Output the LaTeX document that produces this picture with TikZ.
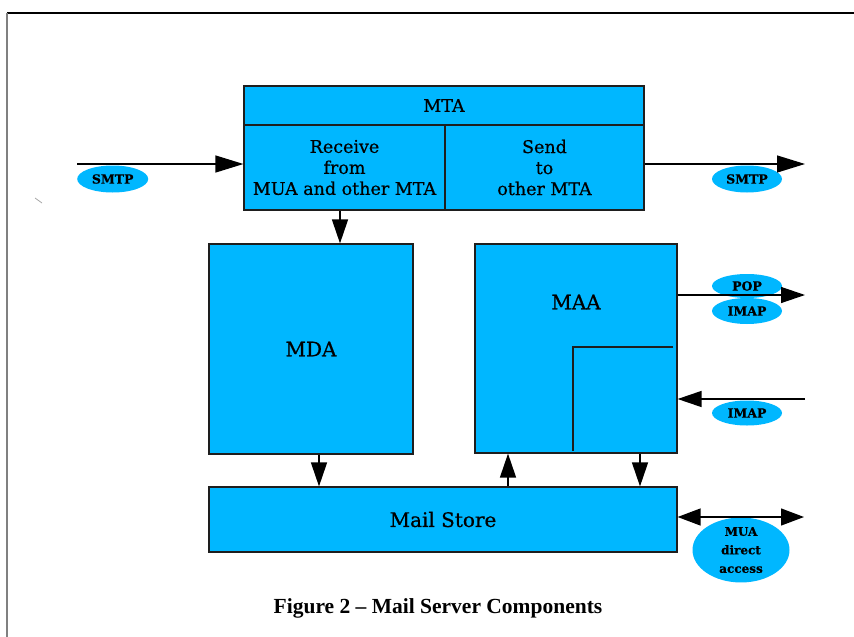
\documentclass[tikz,border=0pt]{standalone}
\usepackage{fontspec}
\setmainfont{DejaVu Serif}[FakeBold=0.6]
\newfontfamily\capfont{Liberation Serif}
\usetikzlibrary{shapes.geometric,arrows.meta,calc}
\definecolor{boxfill}{RGB}{0,183,255}
\definecolor{edgecol}{RGB}{30,30,30}
\begin{document}
\begin{tikzpicture}[x=1pt,y=-1pt,
  box/.style={draw=edgecol,line width=1.2pt,fill=boxfill,inner sep=0pt,align=center},
  midtext/.style={font=\fontsize{17.5}{21}\selectfont},
  bigtext/.style={font=\fontsize{20}{24}\selectfont},
  proto/.style={ellipse,fill=boxfill,inner sep=0pt,align=center,font=\bfseries\fontsize{12.5}{14}\selectfont},
  arr/.style={line width=1.3pt,-{Triangle[length=24pt,width=16pt]}},
  arrbig/.style={line width=1.3pt,-{Triangle[length=28pt,width=17pt]}},
  arrboth/.style={line width=1.3pt,{Triangle[length=23pt,width=17pt]}-{Triangle[length=23pt,width=17pt]}},
  ]
\useasboundingbox (0,0) rectangle (854,637);
\fill[white] (0,0) rectangle (854,637);
% frame
\draw[line width=2pt] (7,13) -- (854,13);
\draw[gray,line width=1.5pt] (7,13) -- (7,637);
\draw[gray!70,line width=0.8pt] (35,198) -- (42,203);

% MTA
\node[box,midtext,minimum width=400pt,minimum height=39pt] (mtahead) at (444,105.5) {MTA};
\node[box,midtext,minimum width=201pt,minimum height=85pt] (recv) at (344.5,167.5) {Receive\\from\\MUA and other MTA};
\node[box,midtext,minimum width=199pt,minimum height=85pt] (send) at (544.5,167.5) {Send\\to\\other MTA};

% MDA, MAA, Mail Store
\node[box,bigtext,minimum width=204pt,minimum height=210pt] (mda) at (311,349) {MDA};
\node[box,minimum width=202pt,minimum height=209pt] (maa) at (576,348.5) {};
\node[bigtext] (maatext) at (576,302) {MAA};
\draw[line width=1.2pt,edgecol] (673,347) -- (573,347) -- (573,451);
\node[box,bigtext,minimum width=468pt,minimum height=65pt] (store) at (443,519.5) {Mail Store};

% protocol ellipses
\node[proto,minimum width=71pt,minimum height=27pt] (smtp1) at (112.7,179) {SMTP};
\node[proto,minimum width=70pt,minimum height=27pt] (smtp2) at (747,179) {SMTP};
\node[proto,minimum width=70pt,minimum height=24pt] (pop) at (747,286) {POP};
\node[proto,minimum width=70pt,minimum height=26pt] (imap1) at (747,311) {IMAP};
\node[proto,minimum width=70pt,minimum height=25pt] (imap2) at (747,413) {IMAP};
\node[proto,minimum width=97pt,minimum height=63pt,font=\bfseries\fontsize{12}{18.5}\selectfont] (muae) at (741,550) {MUA\\direct\\access};

% connectors
\coordinate (smtpin) at (77,164);
\draw[arrbig] (smtpin) -- (smtpin -| recv.west);
\coordinate (smtpout) at (805,164);
\draw[arrbig] (smtpout -| send.east) -- (smtpout);
\coordinate (c1) at (340,0);
\draw[arr] (recv.south -| c1) -- (mda.north -| c1);
\coordinate (c2) at (319,0);
\draw[arr] (mda.south -| c2) -- (store.north -| c2);
\coordinate (c3) at (508,0);
\draw[arr] (store.north -| c3) -- (maa.south -| c3);
\coordinate (c4) at (640,0);
\draw[arr] (maa.south -| c4) -- (store.north -| c4);
\coordinate (popout) at (805,295);
\draw[arr] (maa.east |- popout) -- (popout);
\coordinate (imapin) at (805,399);
\draw[arr] (imapin) -- (imapin -| maa.east);
\coordinate (muaend) at (804,517);
\draw[arrboth] (muaend -| store.east) -- (muaend);

% caption
\node[font=\capfont\bfseries\fontsize{21.5}{24}\selectfont] (caption) at (438,608) {Figure 2 – Mail Server Components};
\end{tikzpicture}
\end{document}
